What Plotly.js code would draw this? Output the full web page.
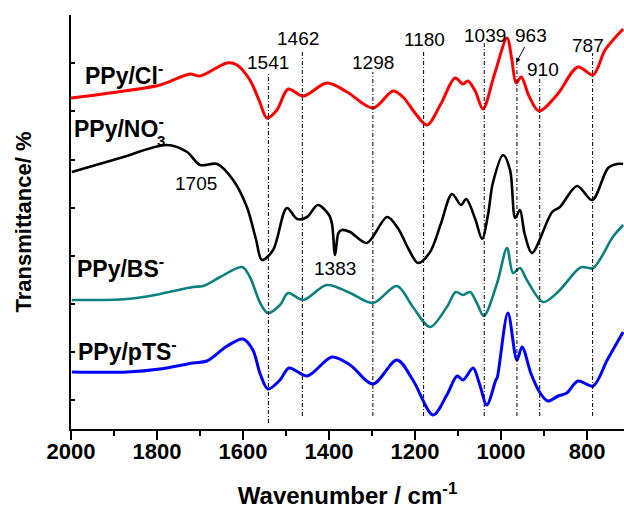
<!DOCTYPE html>
<html>
<head>
<meta charset="utf-8">
<script src="https://cdn.plot.ly/plotly-3.0.1.min.js"></script>
<style>html,body{margin:0;padding:0;background:#fff;}#chart{width:624px;height:510px;}</style>
</head>
<body>
<div id="chart"></div>
<script>
// ---- data (wavenumber in cm-1, transmittance in arbitrary offset units) ----
const clWn = [2000,1910,1793,1723,1700,1637,1614,1584,1562,1544,1521,1495,1460,1405,1358,1298,1251,1228,1200,1172,1140,1107,1088,1077,1060,1042,1015,986,975,965,953,935,912,870,821,786,758,716];
const clT  = [331,336,344,355,353,366,364,349,328,311,319,340,333,346,337,321,338,332,316,304,325,351,345,348,338,320,355,391,370,346,352,333,318,334,362,354,379,400];

const no3Wn = [1998,1886,1777,1730,1700,1660,1623,1591,1570,1556,1530,1498,1474,1451,1426,1400,1393,1386,1378,1370,1351,1312,1265,1240,1215,1193,1165,1140,1114,1093,1081,1060,1044,1030,1019,995,979,967,956,945,928,881,863,823,788,751,730,716];
const no3T  = [257,271,284,277,264,265,249,222,190,169,179,221,210,212,224,214,205,174,196,199,197,186,212,201,180,166,177,205,235,224,230,210,190,215,246,274,259,211,219,195,176,217,222,243,229,261,265,265];

const bsWn = [1998,1870,1793,1716,1693,1653,1602,1584,1560,1542,1514,1495,1460,1405,1351,1298,1242,1205,1165,1126,1105,1088,1072,1055,1040,1009,986,972,956,940,902,870,823,812,786,740,716];
const bsT  = [129,130,135,142,143,152,162,152,126,116,124,136,129,144,136,126,143,122,102,122,137,134,137,125,113,146,181,156,161,149,127,136,159,162,161,192,204];

const ptsWn = [1998,1870,1793,1716,1684,1637,1600,1577,1560,1542,1514,1493,1451,1393,1351,1298,1242,1205,1158,1126,1102,1088,1065,1050,1033,1012,1009,984,963,951,930,909,891,867,847,821,786,753,716];
const ptsT  = [57,57,60,66,68,83,90,79,55,40,49,61,53,72,64,45,69,49,14,34,53,49,61,45,24,49,51,116,69,82,55,36,28,33,36,48,43,69,97];

const seriesNames = ["PPy/Cl<sup>-</sup>", "PPy/NO<sup>-</sup>", "PPy/BS<sup>-</sup>", "PPy/pTS<sup>-</sup>"];
const peaks = [1541, 1462, 1298, 1180, 1039, 963, 910, 787];
const extraPeaks = [1705, 1383];
const xTickVals = [2000, 1800, 1600, 1400, 1200, 1000, 800];

// ---- styles / placement ----
const colors = ["#ff0000", "#000000", "#0a8080", "#0000ff"];
const widths = [3, 2.6, 2.6, 3];
const font = "Arial, 'Liberation Sans', sans-serif";

const traces = [[clWn, clT], [no3Wn, no3T], [bsWn, bsT], [ptsWn, ptsT]].map((d, i) => ({
  x: d[0], y: d[1], type: "scatter", mode: "lines",
  line: {color: colors[i], width: widths[i], shape: "spline", smoothing: 0.9},
  name: seriesNames[i], showlegend: false, hoverinfo: "skip"
}));

// vertical dash-dot reference line extents (y units) per peak
const lineTop = [357, 379, 357, 379, 387, 366, 351, 376];
const lineBot = [6, 13, 13, 13, 13, 13, 13, 13];
const shapes = peaks.map((p, i) => ({
  type: "line", xref: "x", yref: "y", x0: p, x1: p, y0: lineBot[i], y1: lineTop[i],
  line: {color: "#000", width: 1, dash: "4px,2px,1px,2px"}
}));

// peak label positions
const peakLabelPos = [[1542, 367], [1472, 391], [1298, 367], [1177, 390], [1037, 394], null, [902, 360], [798, 384]];
const annotations = [];
peaks.forEach((p, i) => {
  if (peakLabelPos[i]) {
    annotations.push({x: peakLabelPos[i][0], y: peakLabelPos[i][1], xref: "x", yref: "y",
      text: String(p), showarrow: false, font: {family: font, size: 19, color: "#000"}});
  } else {
    annotations.push({x: 965, y: 366, xref: "x", yref: "y", text: String(p),
      showarrow: true, ax: 15, ay: -28, arrowhead: 2, arrowsize: 1, arrowwidth: 1, arrowcolor: "#000",
      font: {family: font, size: 19, color: "#000"}});
  }
});
const extraPos = [[1709, 246], [1386, 161]];
extraPeaks.forEach((p, i) => annotations.push({x: extraPos[i][0], y: extraPos[i][1], xref: "x", yref: "y",
  text: String(p), showarrow: false, font: {family: font, size: 19, color: "#000"}}));

const namePos = [[1972, 355], [1998, 302], [1991, 162], [1988, 79]];
seriesNames.forEach((n, i) => annotations.push({x: namePos[i][0], y: namePos[i][1], xref: "x", yref: "y",
  xanchor: "left", yanchor: "middle", text: "<b>" + n + "</b>", showarrow: false,
  font: {family: font, size: 23, color: "#000"}}));
annotations.push({x: 1791, y: 289, xref: "x", yref: "y", text: "<b>3</b>", showarrow: false,
  font: {family: font, size: 15, color: "#000"}});

const layout = {
  width: 624, height: 510,
  margin: {l: 71, r: 0, t: 15, b: 81},
  paper_bgcolor: "#fff", plot_bgcolor: "#fff",
  font: {family: font, color: "#000"},
  xaxis: {
    range: [2000, 714], tickvals: xTickVals, ticks: "outside", ticklen: 9, tickwidth: 2,
    minor: {dtick: 100, tick0: 0, ticks: "outside", ticklen: 5, tickwidth: 2, tickcolor: "#000"},
    tickcolor: "#000", showline: true, linewidth: 2, linecolor: "#000",
    showgrid: false, zeroline: false, ticklabelstandoff: -7,
    tickfont: {family: font, size: 22, color: "#000", weight: "bold"},
    title: {text: "<b>Wavenumber / cm<sup>-1</sup></b>", font: {family: font, size: 24, color: "#000"}, standoff: 24}
  },
  xaxis2: {
    overlaying: "x", side: "top", anchor: "y", range: [2000, 714],
    tick0: 0, dtick: 100, ticks: "inside", ticklen: 4, tickwidth: 2, tickcolor: "#000",
    showticklabels: false, showline: true, linewidth: 2, linecolor: "#000",
    showgrid: false, zeroline: false
  },
  yaxis: {
    range: [0, 414], tick0: 29, dtick: 48.1, ticks: "inside", ticklen: 4, tickwidth: 2, tickcolor: "#000",
    showticklabels: false, showline: true, linewidth: 2, linecolor: "#000",
    showgrid: false, zeroline: false,
    title: {text: "<b>Transmittance/ %</b>", font: {family: font, size: 22, color: "#000"}, standoff: 31}
  },
  shapes: shapes,
  annotations: annotations
};

Plotly.newPlot("chart", traces, layout, {staticPlot: true, displayModeBar: false});
</script>
</body>
</html>
